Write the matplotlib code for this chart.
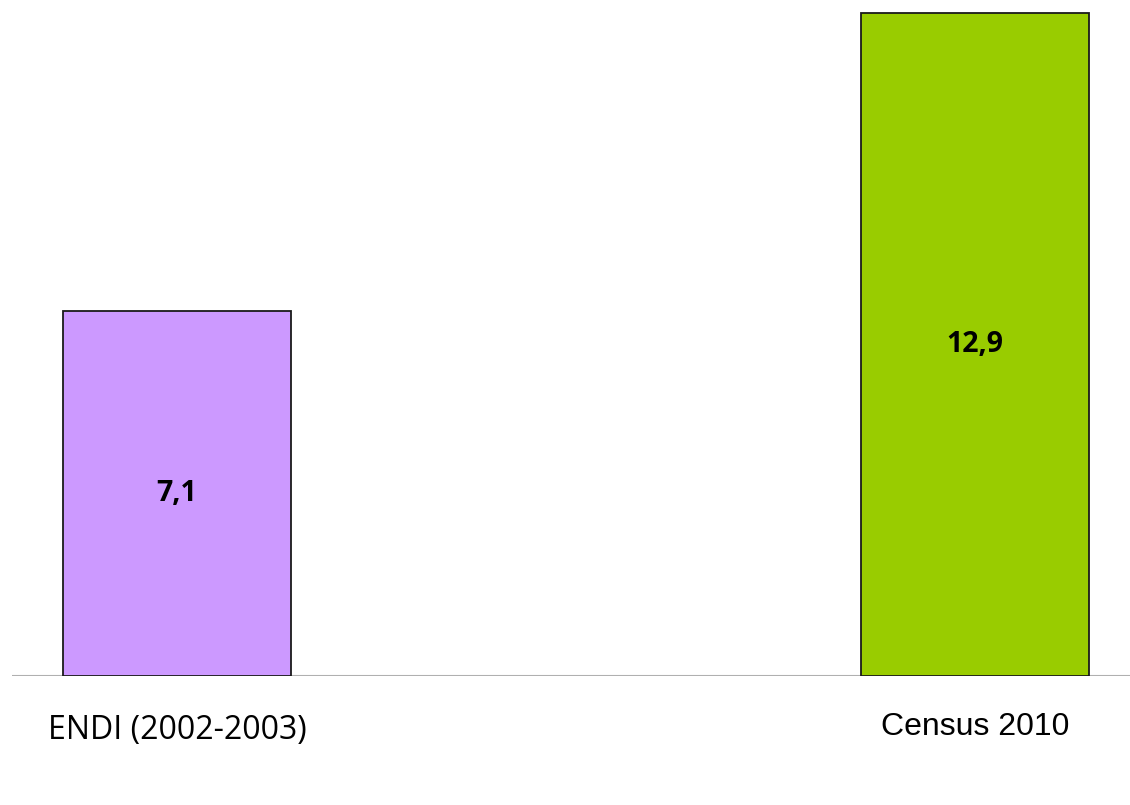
import matplotlib
matplotlib.use('Agg')
import matplotlib.pyplot as plt

# data
categories = ['ENDI (2002-2003)', 'Census 2010']
values = [7.1, 12.9]
value_labels = ['7,1', '12,9']
colors = ['#CC99FF', '#99CC00']

fig = plt.figure(figsize=(11.3, 8.05), dpi=100)
ax = fig.add_axes([12 / 1130, 129 / 805, 1 - 12 / 1130, 676 / 805])

x = list(range(len(categories)))
bars = ax.bar(x, values, width=0.2857, color=colors, edgecolor='#1a1a1a', linewidth=1.3, zorder=2)

ax.set_xlim(-0.2068, 1.1942)
ax.set_ylim(0, 13.15)

# value labels in the middle of each bar
for xi, v, lab in zip(x, values, value_labels):
    ax.text(xi, v / 2, lab, ha='center', va='center', fontsize=20.5,
            fontweight='bold', family='Open Sans', color='black')

# baseline
ax.axhline(0, color='#b0b0b0', linewidth=1.5, zorder=1)

for s in ax.spines.values():
    s.set_visible(False)
ax.set_xticks([])
ax.set_yticks([])

# category labels (different fonts, as in the source)
ax.text(x[0], -1.06, categories[0], ha='center', va='center', fontsize=23,
        family='Open Sans', color='black')
ax.text(x[1], -1.0, categories[1], ha='center', va='center', fontsize=23,
        family='Liberation Sans', color='black')

fig.savefig('out.png', dpi=100)
